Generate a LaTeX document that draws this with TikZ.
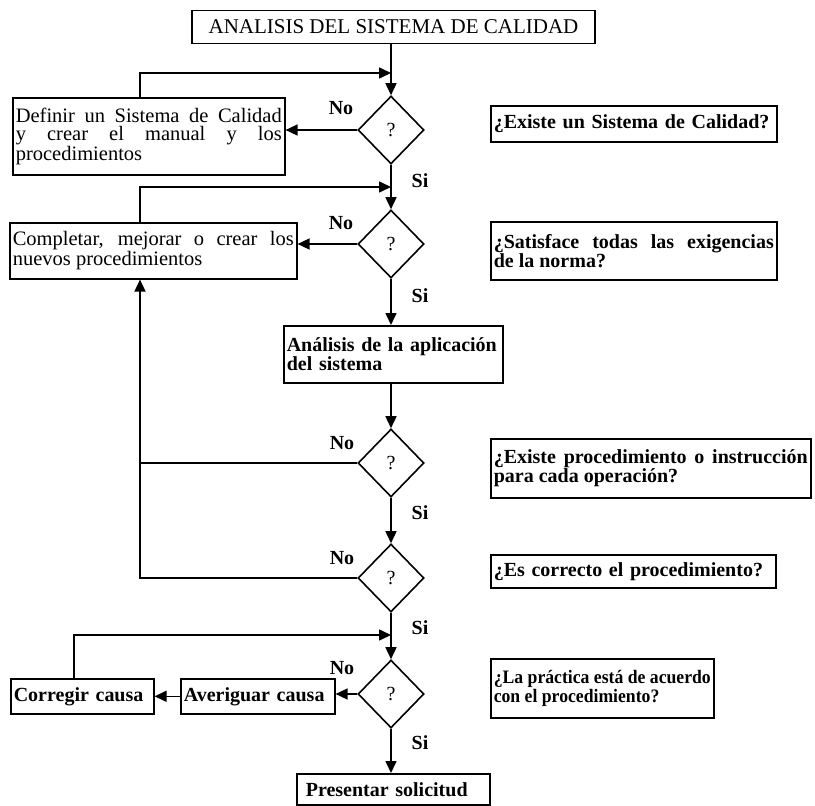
\documentclass[tikz,border=0pt]{standalone}
\usepackage{fontspec}
\setmainfont{Liberation Serif}
\newfontfamily\narrowserif{Liberation Serif}[FakeStretch=0.93]
\usetikzlibrary{arrows.meta,shapes.geometric}

\begin{document}
\begin{tikzpicture}[x=1pt,y=-1pt,
  line width=1.6pt,
  box/.style={draw, line width=1.6pt, anchor=north west, inner xsep=3pt, inner ysep=0pt,
    align=justify, font=\fontsize{20.5}{18.5}\selectfont},
  boldbox/.style={box, font=\fontsize{20}{19}\selectfont\bfseries},
  decision/.style={draw, diamond, line width=1.6pt, minimum width=66pt, minimum height=68pt,
    inner sep=0pt, font=\fontsize{20}{20}\selectfont},
  lbl/.style={font=\fontsize{20}{20}\selectfont\bfseries, inner sep=0pt},
  arr/.style={-{Triangle[length=12pt,width=11pt]}},
]
% page area
\fill[white] (0,0) rectangle (815,806);
\useasboundingbox (0,0) rectangle (815,806);

% main column
\node[box, anchor=center, minimum width=403pt, minimum height=33pt, align=center,
      font=\fontsize{21}{21}\selectfont] (title) at (393.5,27) {ANALISIS DEL SISTEMA DE CALIDAD};

\node[decision] (d1) at (391,130) {?};
\node[decision] (d2) at (391,244) {?};
\node[decision] (d3) at (391,463) {?};
\node[decision] (d4) at (391,578) {?};
\node[decision] (d5) at (391,694) {?};

\node[boldbox, text width=213pt, minimum height=57pt, align=left] (ana) at (283,325)
  {Análisis de la aplicación\\del sistema};
\node[boldbox, text width=187pt, minimum height=31pt, align=left] (pres) at (296,773)
  {\hspace*{6pt}Presentar solicitud};

% corrective actions on the left
\node[box, text width=266pt, minimum height=77pt] (def) at (12,97)
  {Definir un Sistema de Calidad\linebreak y crear el manual y los\linebreak procedimientos};
\node[box, text width=281pt, minimum height=56pt] (comp) at (9,222)
  {Completar, mejorar o crear los\linebreak nuevos procedimientos};
\node[boldbox, text width=148pt, minimum height=35pt, align=left] (ave) at (180,678) {Averiguar causa};
\node[boldbox, text width=137pt, minimum height=35pt, align=left] (cor) at (10,678) {Corregir causa};

% questions on the right
\node[boldbox, text width=280pt, minimum height=36pt, align=left] (q1) at (490,105)
  {¿Existe un Sistema de Calidad?};
\node[boldbox, text width=280pt, minimum height=58pt] (q2) at (490,221)
  {¿Satisface todas las exigencias\linebreak de la norma?};
\node[boldbox, text width=314pt, minimum height=59pt] (q3) at (490,438)
  {¿Existe procedimiento o instrucción\linebreak para cada operación?};
\node[boldbox, text width=279pt, minimum height=33pt, align=left] (q4) at (490,554)
  {¿Es correcto el procedimiento?};
\node[boldbox, text width=217pt, minimum height=59pt,
      font=\narrowserif\fontsize{19}{19}\selectfont\bfseries] (q5) at (490,658)
  {¿La práctica está de acuerdo\linebreak con el procedimiento?};

% branch labels
\node[lbl] (no1) at (341,108) {No};
\node[lbl] (no2) at (341,223) {No};
\node[lbl] (no3) at (342,443) {No};
\node[lbl] (no4) at (342,558) {No};
\node[lbl] (no5) at (342,668) {No};
\node[lbl] (si1) at (420,181) {Si};
\node[lbl] (si2) at (420,296) {Si};
\node[lbl] (si3) at (420,513) {Si};
\node[lbl] (si4) at (420,628) {Si};
\node[lbl] (si5) at (420,743) {Si};

% junctions on the main line and the return riser
\coordinate (j1) at (391,73);
\coordinate (j2) at (391,187);
\coordinate (j3) at (391,635);
\coordinate (rise) at ([xshift=131pt]comp.south west);

% connectors
\draw[arr] (title.south -| d1.north) -- (d1.north);
\draw[arr] ([xshift=128pt]def.north west) |- (j1);
\draw[arr] (d1.west) -- (d1.west -| def.east);
\draw[arr] (d1.south) -- (d2.north);
\draw[arr] ([xshift=131pt]comp.north west) |- (j2);
\draw[arr] (d2.west) -- (d2.west -| comp.east);
\draw[arr] (d2.south) -- (d2.south |- ana.north);
\draw[arr] (d3.north |- ana.south) -- (d3.north);
\draw (d3.west) -- (d3.west -| rise);
\draw[arr] (d4.west) -| (rise);
\draw[arr] (d3.south) -- (d4.north);
\draw[arr] (d4.south) -- (d5.north);
\draw[arr] ([xshift=64pt]cor.north west) |- (j3);
\draw[arr] (d5.west) -- (d5.west -| ave.east);
\draw[arr] (ave.west) -- (ave.west -| cor.east);
\draw[arr] (d5.south) -- (d5.south |- pres.north);
\end{tikzpicture}
\end{document}
